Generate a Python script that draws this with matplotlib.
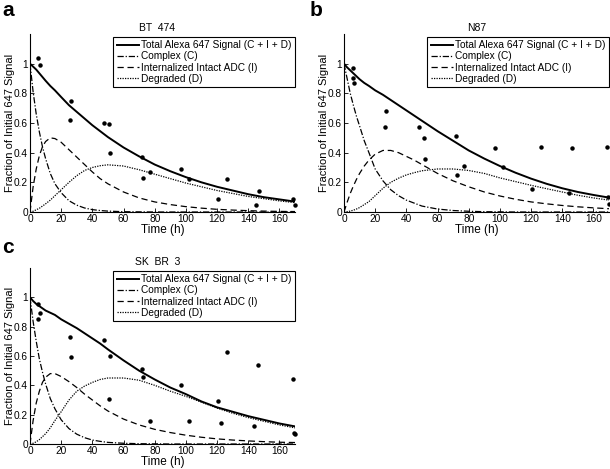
import numpy as np
import matplotlib
matplotlib.use("Agg")
import matplotlib.pyplot as plt

plt.rcParams['font.family'] = ['Liberation Sans', 'DejaVu Sans']

# model curves at these times (h)
fit_t = [0, 2, 4, 6, 8, 10, 13, 16, 20, 25, 30, 35, 40, 45, 50,
         60, 70, 80, 90, 100, 110, 120, 130, 140, 150, 160, 170]

# BT 474
bt_total = [1.0, 0.98, 0.96, 0.935, 0.91, 0.885, 0.85, 0.82, 0.775, 0.72, 0.675, 0.63, 0.585, 0.545, 0.505,
            0.435, 0.375, 0.32, 0.275, 0.235, 0.20, 0.17, 0.145, 0.12, 0.10, 0.085, 0.07]
bt_complex = [1.0, 0.81, 0.66, 0.54, 0.44, 0.36, 0.26, 0.19, 0.13, 0.076, 0.046, 0.027, 0.016, 0.01, 0.006,
              0.002, 0.001, 0, 0, 0, 0, 0, 0, 0, 0, 0, 0]
bt_internal = [0, 0.17, 0.29, 0.38, 0.44, 0.475, 0.50, 0.495, 0.47, 0.42, 0.37, 0.32, 0.27, 0.225, 0.19,
               0.135, 0.095, 0.068, 0.05, 0.036, 0.026, 0.018, 0.013, 0.009, 0.006, 0.004, 0.003]
bt_degraded = [0, 0.005, 0.015, 0.025, 0.04, 0.055, 0.08, 0.11, 0.15, 0.20, 0.245, 0.28, 0.30, 0.312, 0.318,
               0.31, 0.285, 0.255, 0.225, 0.195, 0.17, 0.145, 0.125, 0.105, 0.09, 0.075, 0.063]
bt_pts_t = [5.4, 6.1, 25.8, 26.4, 47.6, 50.9, 51.3, 72, 72.5, 76.8, 96.8, 101.7, 120.8, 126.6, 145, 146.8, 169, 170]
bt_pts_y = [1.04, 0.99, 0.62, 0.75, 0.60, 0.59, 0.40, 0.37, 0.23, 0.27, 0.29, 0.22, 0.086, 0.225, 0.05, 0.144, 0.09, 0.045]

# N87
n87_total = [1.0, 0.975, 0.955, 0.935, 0.915, 0.895, 0.87, 0.85, 0.82, 0.79, 0.755, 0.72, 0.685, 0.65, 0.615,
             0.545, 0.48, 0.415, 0.36, 0.31, 0.265, 0.225, 0.19, 0.16, 0.135, 0.115, 0.097]
n87_complex = [1.0, 0.90, 0.80, 0.72, 0.645, 0.58, 0.48, 0.40, 0.29, 0.21, 0.15, 0.11, 0.08, 0.06, 0.04,
               0.02, 0.01, 0.005, 0.002, 0.001, 0, 0, 0, 0, 0, 0, 0]
n87_internal = [0, 0.065, 0.125, 0.175, 0.22, 0.26, 0.31, 0.35, 0.39, 0.415, 0.415, 0.40, 0.375, 0.35, 0.32,
                0.26, 0.21, 0.17, 0.135, 0.108, 0.086, 0.068, 0.055, 0.044, 0.035, 0.028, 0.022]
n87_degraded = [0, 0.002, 0.006, 0.012, 0.02, 0.03, 0.05, 0.07, 0.11, 0.16, 0.20, 0.228, 0.25, 0.265, 0.278,
                0.29, 0.29, 0.28, 0.26, 0.23, 0.205, 0.18, 0.157, 0.135, 0.113, 0.095, 0.08]
n87_pts_t = [5.6, 6.0, 6.5, 26.3, 26.7, 47.8, 51.3, 51.7, 72.0, 72.4, 76.7, 96.6, 101.7, 120.7, 126.3,
             144.6, 146.0, 169.0, 169.6, 170.0]
n87_pts_y = [0.90, 0.97, 0.87, 0.57, 0.68, 0.57, 0.50, 0.36, 0.51, 0.25, 0.31, 0.43, 0.30, 0.155, 0.44,
             0.13, 0.43, 0.44, 0.10, 0.053]

# SK BR 3
sk_total = [1.0, 0.975, 0.955, 0.94, 0.925, 0.91, 0.895, 0.88, 0.85, 0.82, 0.79, 0.755, 0.72, 0.685, 0.645,
            0.57, 0.50, 0.44, 0.385, 0.34, 0.29, 0.25, 0.22, 0.19, 0.165, 0.14, 0.12]
sk_complex = [1.0, 0.835, 0.70, 0.58, 0.49, 0.41, 0.31, 0.24, 0.165, 0.105, 0.067, 0.043, 0.027, 0.018, 0.011,
              0.005, 0.002, 0.001, 0, 0, 0, 0, 0, 0, 0, 0, 0]
sk_internal = [0, 0.16, 0.28, 0.36, 0.42, 0.455, 0.48, 0.48, 0.46, 0.425, 0.385, 0.34, 0.30, 0.26, 0.225,
               0.17, 0.13, 0.10, 0.078, 0.06, 0.046, 0.035, 0.027, 0.021, 0.016, 0.012, 0.01]
sk_degraded = [0, 0.005, 0.015, 0.03, 0.05, 0.07, 0.11, 0.16, 0.22, 0.30, 0.36, 0.395, 0.42, 0.44, 0.45,
               0.45, 0.435, 0.40, 0.36, 0.325, 0.285, 0.245, 0.21, 0.18, 0.155, 0.13, 0.11]
sk_pts_t = [5.4, 5.4, 6.1, 25.8, 26.4, 47.6, 50.9, 51.3, 72, 72.5, 76.8, 96.8, 101.7, 120.8, 122.5, 126.6,
            144, 146, 169, 169.5, 170]
sk_pts_y = [0.956, 0.85, 0.89, 0.73, 0.59, 0.71, 0.31, 0.60, 0.51, 0.46, 0.16, 0.40, 0.16, 0.29, 0.14, 0.63,
            0.12, 0.54, 0.44, 0.075, 0.065]

labels = ['Total Alexa 647 Signal (C + I + D)', 'Complex (C)',
          'Internalized Intact ADC (I)', 'Degraded (D)']
xticks = [0, 20, 40, 60, 80, 100, 120, 140, 160]
yticks = [0, 0.2, 0.4, 0.6, 0.8, 1]
yticklabels = ['0', '0.2', '0.4', '0.6', '0.8', '1']

fig = plt.figure(figsize=(6.10, 4.69), dpi=100)
W, H = 610.0, 469.0


def make_axes(left, top, right, bottom):
    return fig.add_axes([left / W, 1 - bottom / H, (right - left) / W, (bottom - top) / H])


def draw_panel(ax, title, total, complex_, internal, degraded, pts_t, pts_y, title_x=0.5):
    ax.plot(fit_t, total, color='black', lw=1.4, ls='-', label=labels[0])
    ax.plot(fit_t, complex_, color='black', lw=0.9, ls=(0, (5, 1.5, 1, 1.5)), label=labels[1])
    ax.plot(fit_t, internal, color='black', lw=0.9, ls=(0, (5, 3)), label=labels[2])
    ax.plot(fit_t, degraded, color='black', lw=0.9, ls=(0, (1, 1)), label=labels[3])
    ax.plot(pts_t, pts_y, ls='none', marker='o', ms=2.2, color='black', clip_on=False)
    ax.set_xlim(0, 170)
    ax.set_ylim(0, 1.2)
    ax.set_xticks(xticks)
    ax.set_yticks(yticks)
    ax.set_yticklabels(yticklabels)
    ax.tick_params(direction='in', length=3, width=0.6, labelsize=7.3, pad=1.5)
    ax.spines['top'].set_visible(False)
    ax.spines['right'].set_visible(False)
    for s in ('left', 'bottom'):
        ax.spines[s].set_linewidth(0.8)
    ax.set_xlabel('Time (h)', fontsize=8.5, labelpad=0)
    ax.set_ylabel('Fraction of Initial 647 Signal', fontsize=8)
    ax.yaxis.set_label_coords(-0.058, 0.5)
    ax.set_title(title, fontsize=7.5, pad=2.5, x=title_x)
    leg = ax.legend(loc='upper right', bbox_to_anchor=(1.0, 0.985), fontsize=7.3,
                    handlelength=2.2, handletextpad=0.2, labelspacing=0.12,
                    borderpad=0.35, borderaxespad=0, fancybox=False, framealpha=1)
    leg.get_frame().set_edgecolor('black')
    leg.get_frame().set_linewidth(0.8)


ax_a = make_axes(30, 34, 295, 212)
ax_b = make_axes(344, 34, 609, 212)
ax_c = make_axes(30, 268, 295, 444)

draw_panel(ax_a, 'BT  474', bt_total, bt_complex, bt_internal, bt_degraded, bt_pts_t, bt_pts_y, title_x=0.48)
draw_panel(ax_b, 'N87', n87_total, n87_complex, n87_internal, n87_degraded, n87_pts_t, n87_pts_y)
draw_panel(ax_c, 'SK  BR  3', sk_total, sk_complex, sk_internal, sk_degraded, sk_pts_t, sk_pts_y, title_x=0.48)

fig.text(2 / W, 1 - 1 / H, 'a', fontsize=15, fontweight='bold', va='top', ha='left')
fig.text(310 / W, 1 - 1 / H, 'b', fontsize=15, fontweight='bold', va='top', ha='left')
fig.text(2 / W, 1 - 238 / H, 'c', fontsize=15, fontweight='bold', va='top', ha='left')

fig.savefig('out.png', dpi=100)
